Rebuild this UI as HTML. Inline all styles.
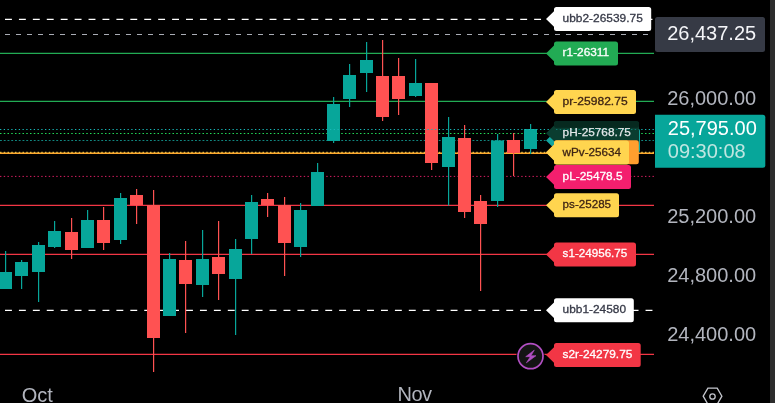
<!DOCTYPE html>
<html lang="en"><head><meta charset="utf-8"><title>Chart</title>
<style>
html,body{margin:0;padding:0;background:#000;}
body{width:775px;height:403px;overflow:hidden;position:relative;font-family:"Liberation Sans",sans-serif;}
svg{position:absolute;left:0;top:0;display:block;}
text{font-family:"Liberation Sans",sans-serif;}
.lb{font-size:11.8px;}
.ax{font-size:20px;fill:#b2b5be;}
</style></head><body>
<svg width="775" height="403" viewBox="0 0 775 403">
<rect x="0" y="0" width="775" height="403" fill="#000"/>

<g id="lines">
<line x1="5" y1="19.45" x2="654" y2="19.45" stroke="#ffffff" stroke-width="1.3" stroke-dasharray="6.9 7.025" stroke-dashoffset="0" opacity="1"/>
<line x1="5" y1="34.4" x2="654" y2="34.4" stroke="#a9acb5" stroke-width="1.05" stroke-dasharray="5 6" stroke-dashoffset="0" opacity="1"/>
<line x1="0" y1="53.4" x2="654" y2="53.4" stroke="#22ab54" stroke-width="1.3" opacity="1"/>
<line x1="0" y1="101.3" x2="654" y2="101.3" stroke="#22ab54" stroke-width="1.3" opacity="1"/>
<line x1="0" y1="153.2" x2="654" y2="153.2" stroke="#ffa92e" stroke-width="1.5" opacity="1"/>
<line x1="0" y1="152.3" x2="654" y2="152.3" stroke="#ffd54f" stroke-width="1.0" stroke-dasharray="1.5 2.25" stroke-dashoffset="0" opacity="1"/>
<line x1="0" y1="133.5" x2="654" y2="133.5" stroke="#22d957" stroke-width="1.2" stroke-dasharray="1.5 2.25" stroke-dashoffset="0" opacity="1"/>
<line x1="0" y1="140.5" x2="654" y2="140.5" stroke="#11857f" stroke-width="1.0" stroke-dasharray="1.9 1.85" stroke-dashoffset="0" opacity="1"/>
<line x1="0" y1="176.4" x2="654" y2="176.4" stroke="#d81e62" stroke-width="1.0" stroke-dasharray="1.4 2.35" stroke-dashoffset="0" opacity="1"/>
<line x1="0" y1="205.4" x2="654" y2="205.4" stroke="#f23645" stroke-width="1.3" opacity="1"/>
<line x1="0" y1="254.4" x2="654" y2="254.4" stroke="#f23645" stroke-width="1.3" opacity="1"/>
<line x1="5" y1="310.45" x2="654" y2="310.45" stroke="#ffffff" stroke-width="1.3" stroke-dasharray="6.9 7.025" stroke-dashoffset="0" opacity="1"/>
<line x1="0" y1="354.4" x2="654" y2="354.4" stroke="#f23645" stroke-width="1.3" opacity="1"/>
</g>
<g id="candles">
<rect x="5" y="251" width="1.2" height="38" fill="#07a69a"/>
<rect x="-1" y="272" width="13" height="17" fill="#07a69a"/>
<rect x="21" y="260" width="1.2" height="29" fill="#07a69a"/>
<rect x="15" y="262" width="13" height="14" fill="#07a69a"/>
<rect x="38" y="242" width="1.2" height="60" fill="#07a69a"/>
<rect x="32" y="245" width="13" height="27" fill="#07a69a"/>
<rect x="54" y="221" width="1.2" height="27" fill="#07a69a"/>
<rect x="48" y="231" width="13" height="16" fill="#07a69a"/>
<rect x="71" y="218" width="1.2" height="41" fill="#ff5252"/>
<rect x="65" y="232" width="13" height="18" fill="#ff5252"/>
<rect x="87" y="210" width="1.2" height="38" fill="#07a69a"/>
<rect x="81" y="220" width="13" height="28" fill="#07a69a"/>
<rect x="103" y="207" width="1.2" height="43" fill="#ff5252"/>
<rect x="97" y="220" width="13" height="23" fill="#ff5252"/>
<rect x="120" y="193" width="1.2" height="51" fill="#07a69a"/>
<rect x="114" y="198" width="13" height="42" fill="#07a69a"/>
<rect x="136" y="189" width="1.2" height="35" fill="#ff5252"/>
<rect x="130" y="195" width="13" height="10" fill="#ff5252"/>
<rect x="153" y="190" width="1.2" height="182" fill="#ff5252"/>
<rect x="147" y="205" width="13" height="133" fill="#ff5252"/>
<rect x="169" y="253" width="1.2" height="63" fill="#07a69a"/>
<rect x="163" y="259" width="13" height="57" fill="#07a69a"/>
<rect x="185" y="241" width="1.2" height="92" fill="#ff5252"/>
<rect x="179" y="260" width="13" height="24" fill="#ff5252"/>
<rect x="202" y="230" width="1.2" height="67" fill="#07a69a"/>
<rect x="196" y="259" width="13" height="26" fill="#07a69a"/>
<rect x="218" y="221" width="1.2" height="79" fill="#ff5252"/>
<rect x="212" y="257" width="13" height="17" fill="#ff5252"/>
<rect x="235" y="239" width="1.2" height="96" fill="#07a69a"/>
<rect x="229" y="249" width="13" height="30" fill="#07a69a"/>
<rect x="251" y="195" width="1.2" height="59" fill="#07a69a"/>
<rect x="245" y="202" width="13" height="37" fill="#07a69a"/>
<rect x="267" y="193" width="1.2" height="24" fill="#ff5252"/>
<rect x="261" y="199" width="13" height="6" fill="#ff5252"/>
<rect x="284" y="197" width="1.2" height="79" fill="#ff5252"/>
<rect x="278" y="205" width="13" height="38" fill="#ff5252"/>
<rect x="300" y="203" width="1.2" height="54" fill="#07a69a"/>
<rect x="294" y="210" width="13" height="37" fill="#07a69a"/>
<rect x="317" y="163" width="1.2" height="43" fill="#07a69a"/>
<rect x="311" y="172" width="13" height="34" fill="#07a69a"/>
<rect x="333" y="97" width="1.2" height="46" fill="#07a69a"/>
<rect x="327" y="104" width="13" height="37" fill="#07a69a"/>
<rect x="349" y="64" width="1.2" height="43" fill="#07a69a"/>
<rect x="343" y="75" width="13" height="24" fill="#07a69a"/>
<rect x="366" y="42" width="1.2" height="50" fill="#07a69a"/>
<rect x="360" y="60" width="13" height="13" fill="#07a69a"/>
<rect x="382" y="40" width="1.2" height="81" fill="#ff5252"/>
<rect x="376" y="76" width="13" height="41" fill="#ff5252"/>
<rect x="398" y="58" width="1.2" height="57" fill="#ff5252"/>
<rect x="392" y="76" width="13" height="23" fill="#ff5252"/>
<rect x="415" y="59" width="1.2" height="38" fill="#07a69a"/>
<rect x="409" y="83" width="13" height="13" fill="#07a69a"/>
<rect x="431" y="83" width="1.2" height="87" fill="#ff5252"/>
<rect x="425" y="83" width="13" height="80" fill="#ff5252"/>
<rect x="448" y="117" width="1.2" height="88.5" fill="#07a69a"/>
<rect x="442" y="137" width="13" height="30" fill="#07a69a"/>
<rect x="464" y="125" width="1.2" height="93" fill="#ff5252"/>
<rect x="458" y="138" width="13" height="74" fill="#ff5252"/>
<rect x="480" y="195" width="1.2" height="96" fill="#ff5252"/>
<rect x="474" y="201" width="13" height="23" fill="#ff5252"/>
<rect x="497" y="134" width="1.2" height="73" fill="#07a69a"/>
<rect x="491" y="140.5" width="13" height="60.5" fill="#07a69a"/>
<rect x="513" y="133" width="1.2" height="43" fill="#ff5252"/>
<rect x="507" y="140" width="13" height="13" fill="#ff5252"/>
<rect x="530" y="124" width="1.2" height="30" fill="#07a69a"/>
<rect x="524" y="129" width="13" height="20" fill="#07a69a"/>
</g>
<g id="dots">
<line x1="0" y1="129.5" x2="654" y2="129.5" stroke="#19b8b8" stroke-width="1.0" stroke-dasharray="1.3 2.45" stroke-dashoffset="0" opacity="1"/>
</g>
<g id="labels">
<path d="M556.5,7.0 H648.7 Q651.2,7.0 651.2,9.5 V28.5 Q651.2,31.0 648.7,31.0 H556.5 Q554,31.0 554,28.5 V26.8 L546,19 L554,11.2 V9.5 Q554,7.0 556.5,7.0 Z" fill="#ffffff"/>
<text class="lb" x="562.6" y="21.9" fill="#363947" stroke="#363947" stroke-width="0.3" textLength="80.2" lengthAdjust="spacingAndGlyphs">ubb2-26539.75</text>
<path d="M556.5,41.4 H615.5 Q618,41.4 618,43.9 V62.900000000000006 Q618,65.4 615.5,65.4 H556.5 Q554,65.4 554,62.900000000000006 V61.199999999999996 L546,53.4 L554,45.6 V43.9 Q554,41.4 556.5,41.4 Z" fill="#22ab54"/>
<text class="lb" x="562.6" y="56.3" fill="#ffffff" stroke="#ffffff" stroke-width="0.3" textLength="46.6" lengthAdjust="spacingAndGlyphs">r1-26311</text>
<path d="M556.5,89.9 H633.5 Q636,89.9 636,92.4 V111.4 Q636,113.9 633.5,113.9 H556.5 Q554,113.9 554,111.4 V109.7 L546,101.9 L554,94.10000000000001 V92.4 Q554,89.9 556.5,89.9 Z" fill="#ffd54f"/>
<text class="lb" x="562.6" y="104.8" fill="#3e2414" stroke="#3e2414" stroke-width="0.3" textLength="65" lengthAdjust="spacingAndGlyphs">pr-25982.75</text>
<path d="M556.5,128.5 H637.5 Q640,128.5 640,131.0 V150.0 Q640,152.5 637.5,152.5 H556.5 Q554,152.5 554,150.0 V148.3 L546,140.5 L554,132.7 V131.0 Q554,128.5 556.5,128.5 Z" fill="#12a5a0"/>
<path d="M556.5,121.30000000000001 H636.5 Q639,121.30000000000001 639,123.80000000000001 V142.8 Q639,145.3 636.5,145.3 H556.5 Q554,145.3 554,142.8 V141.10000000000002 L546,133.3 L554,125.50000000000001 V123.80000000000001 Q554,121.30000000000001 556.5,121.30000000000001 Z" fill="#0a3d30"/>
<rect x="554" y="121.3" width="85" height="6.5" rx="2" fill="#06291f"/>
<line x1="556" y1="129.5" x2="639" y2="129.5" stroke="#12b5b0" stroke-width="1.2" stroke-dasharray="1.4 2.35" opacity="0.55"/>
<text class="lb" x="562.6" y="136.4" fill="#e6e8ea" stroke="#e6e8ea" stroke-width="0.25" textLength="68.3" lengthAdjust="spacingAndGlyphs">pH-25768.75</text>
<path d="M556.5,140.3 H636.3 Q638.8,140.3 638.8,142.8 V161.8 Q638.8,164.3 636.3,164.3 H556.5 Q554,164.3 554,161.8 V160.10000000000002 L546,152.3 L554,144.5 V142.8 Q554,140.3 556.5,140.3 Z" fill="#ff9f2e"/>
<path d="M556.5,140.6 H626.5 Q629,140.6 629,143.1 V162.1 Q629,164.6 626.5,164.6 H556.5 Q554,164.6 554,162.1 V160.4 L546,152.6 L554,144.79999999999998 V143.1 Q554,140.6 556.5,140.6 Z" fill="#ffd54f"/>
<text class="lb" x="562.6" y="155.5" fill="#3e2414" stroke="#3e2414" stroke-width="0.3" textLength="58.5" lengthAdjust="spacingAndGlyphs">wPv-25634</text>
<path d="M556.5,165.0 H628.5 Q631,165.0 631,167.5 V186.5 Q631,189.0 628.5,189.0 H556.5 Q554,189.0 554,186.5 V184.8 L546,177 L554,169.2 V167.5 Q554,165.0 556.5,165.0 Z" fill="#f31f6e"/>
<text class="lb" x="562.6" y="179.9" fill="#ffffff" stroke="#ffffff" stroke-width="0.3" textLength="60" lengthAdjust="spacingAndGlyphs">pL-25478.5</text>
<path d="M556.5,193.3 H616.5 Q619,193.3 619,195.8 V214.8 Q619,217.3 616.5,217.3 H556.5 Q554,217.3 554,214.8 V213.10000000000002 L546,205.3 L554,197.5 V195.8 Q554,193.3 556.5,193.3 Z" fill="#ffd54f"/>
<text class="lb" x="562.6" y="208.2" fill="#3e2414" stroke="#3e2414" stroke-width="0.3" textLength="48.5" lengthAdjust="spacingAndGlyphs">ps-25285</text>
<path d="M556.5,242.4 H633.5 Q636,242.4 636,244.9 V263.9 Q636,266.4 633.5,266.4 H556.5 Q554,266.4 554,263.9 V262.2 L546,254.4 L554,246.6 V244.9 Q554,242.4 556.5,242.4 Z" fill="#f23645"/>
<text class="lb" x="562.6" y="257.3" fill="#ffffff" stroke="#ffffff" stroke-width="0.3" textLength="64.7" lengthAdjust="spacingAndGlyphs">s1-24956.75</text>
<path d="M556.5,298.3 H631.3 Q633.8,298.3 633.8,300.8 V319.8 Q633.8,322.3 631.3,322.3 H556.5 Q554,322.3 554,319.8 V318.1 L546,310.3 L554,302.5 V300.8 Q554,298.3 556.5,298.3 Z" fill="#ffffff"/>
<text class="lb" x="562.6" y="313.2" fill="#363947" stroke="#363947" stroke-width="0.3" textLength="63.4" lengthAdjust="spacingAndGlyphs">ubb1-24580</text>
<path d="M556.5,343.0 H638.2 Q640.7,343.0 640.7,345.5 V364.5 Q640.7,367.0 638.2,367.0 H556.5 Q554,367.0 554,364.5 V362.8 L546,355 L554,347.2 V345.5 Q554,343.0 556.5,343.0 Z" fill="#f23645"/>
<text class="lb" x="562.6" y="357.9" fill="#ffffff" stroke="#ffffff" stroke-width="0.3" textLength="69.7" lengthAdjust="spacingAndGlyphs">s2r-24279.75</text>
</g>
<g id="flash"><circle cx="530.5" cy="356.2" r="14.2" fill="#000"/><circle cx="530.5" cy="356.2" r="12.5" fill="#141414" stroke="#b24fc3" stroke-width="1.7"/><path d="M534.3,350.1 L525.7,356.7 L530.3,356.7 L526.4,362.8 L536,355.7 L531,355.7 Z" fill="#b24fc3" stroke="#b24fc3" stroke-width="0.6" stroke-linejoin="round"/></g>
<g id="axis">
<rect x="655" y="17" width="110" height="35" rx="2.5" fill="#363a45"/>
<text class="ax" x="667.2" y="39.8" style="fill:#f4f5f8">26,437.25</text>
<text class="ax" x="667.2" y="104.8">26,000.00</text>
<path d="M655,114.7 H762.8 Q765.3,114.7 765.3,117.2 V165.2 Q765.3,167.7 762.8,167.7 H655 Z" fill="#07a69a"/>
<text class="ax" x="667.8" y="134.6" style="fill:#ffffff">25,795.00</text>
<text class="ax" x="667.8" y="158.1" style="fill:#bfe6e1">09:30:08</text>
<text class="ax" x="667.2" y="222.8">25,200.00</text>
<text class="ax" x="667.2" y="281.8">24,800.00</text>
<text class="ax" x="667.2" y="341.2">24,400.00</text>
<rect x="770" y="0" width="5" height="403" fill="#2d2d2d"/>
<g fill="none" stroke="#c4c6cd" stroke-width="1.3"><path d="M703.2,396.2 L707.9,388.1 L717.2,388.1 L721.9,396.2 L717.2,404.3 L707.9,404.3 Z"/><circle cx="712.5" cy="396.5" r="2.7"/></g>
</g>
<text class="ax" x="21.8" y="401.6">Oct</text>
<text class="ax" x="397.5" y="401.4" textLength="34.5" lengthAdjust="spacing">Nov</text>
</svg></body></html>
